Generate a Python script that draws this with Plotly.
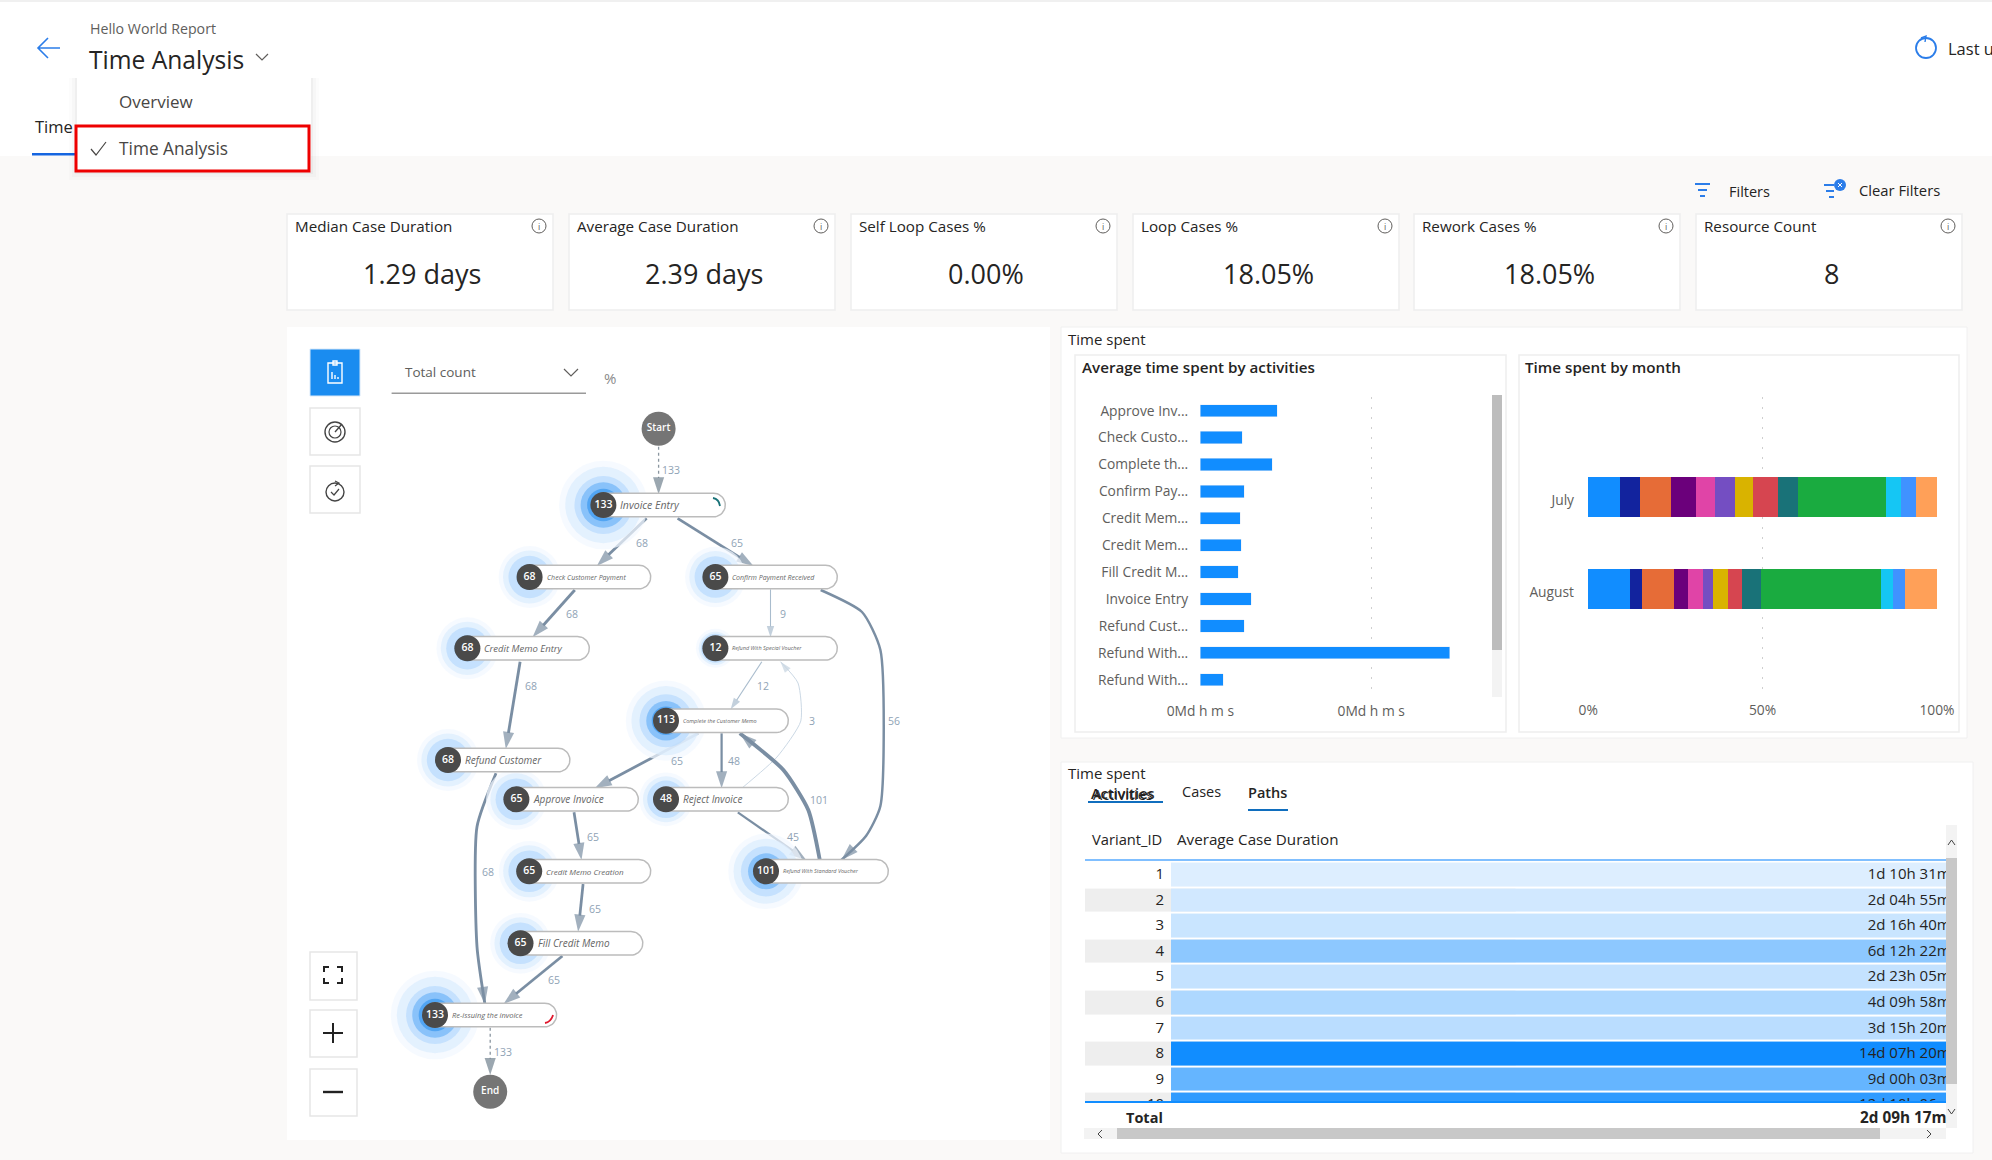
import numpy as np
import plotly.graph_objects as go

W, H = 1992, 1160
FONT = "Open Sans"

# kpi cards
kpi_titles = ["Median Case Duration", "Average Case Duration", "Self Loop Cases %", "Loop Cases %", "Rework Cases %", "Resource Count"]
kpi_values = ["1.29 days", "2.39 days", "0.00%", "18.05%", "18.05%", "8"]

# average time spent by activities (days)
activities = ["Approve Invoice", "Check Customer Payment", "Complete the Customer Memo", "Confirm Payment Received",
              "Credit Memo Creation", "Credit Memo Entry", "Fill Credit Memo", "Invoice Entry", "Refund Customer",
              "Refund With Standard Voucher", "Refund With Special Voucher"]
activity_ticks = ["Approve Inv...", "Check Custo...", "Complete th...", "Confirm Pay...", "Credit Mem...", "Credit Mem...",
                  "Fill Credit M...", "Invoice Entry", "Refund Cust...", "Refund With...", "Refund With..."]
activity_days = [4.5, 2.46, 4.2, 2.57, 2.34, 2.4, 2.22, 2.98, 2.57, 14.6, 1.34]

# time spent by month, share of each activity in %
months = ["July", "August"]
july_share = [9.1, 5.8, 8.9, 7.0, 5.7, 5.7, 5.1, 7.0, 5.8, 25.4, 4.1, 4.3, 6.1]
august_share = [12.0, 3.3, 9.4, 3.9, 4.3, 2.9, 4.3, 3.9, 5.5, 34.5, 3.3, 3.6, 9.1]
month_colors = ["#118DFF", "#12239E", "#E66C37", "#6B007B", "#E044A7", "#744EC2", "#D9B300", "#D64550",
                "#197278", "#1AAB40", "#15C6F4", "#4092FF", "#FFA058"]

# paths table
variant_ids = [1, 2, 3, 4, 5, 6, 7, 8, 9, 10]
variant_labels = ["1d 10h 31m", "2d 04h 55m", "2d 16h 40m", "6d 12h 22m", "2d 23h 05m", "4d 09h 58m", "3d 15h 20m",
                  "14d 07h 20m", "9d 00h 03m", "12d 10h 06m"]
variant_minutes = [2071, 3175, 3880, 9382, 4385, 6358, 5240, 20600, 12963, 17886]
total_label = "2d 09h 17m"

# process map
node_names = ["Invoice Entry", "Check Customer Payment", "Confirm Payment Received", "Credit Memo Entry",
              "Refund With Special Voucher", "Complete the Customer Memo", "Refund Customer", "Approve Invoice",
              "Reject Invoice", "Credit Memo Creation", "Refund With Standard Voucher", "Fill Credit Memo",
              "Re-issuing the invoice"]
node_counts = [133, 68, 65, 68, 12, 113, 68, 65, 48, 65, 101, 65, 133]
edge_counts = [133, 68, 65, 68, 9, 56, 68, 12, 3, 65, 48, 101, 68, 65, 45, 65, 65, 133]

# layout of the process map, pixels on the page
node_pos = [(603.4, 505), (529.6, 577), (715.4, 577), (467.4, 648.3), (715.4, 648.3), (666, 720.7), (448, 760),
            (516.4, 799.3), (666, 799.3), (529.2, 871.3), (766, 871.3), (520.5, 943.3), (435, 1015)]
node_right = [725.3, 650.7, 837.3, 589.3, 837.3, 788.3, 569.9, 638.3, 788.3, 650.7, 888.3, 642.8, 556.6]
node_font = [10.5, 7, 7, 9.5, 5.5, 5.5, 10, 10, 10, 8, 5.5, 10, 7.5]
terminals = [("Start", 658.6, 428.7), ("End", 490.2, 1091.7)]
edge_routes = [
    [(658.6, 446.7), (658.6, 494.3)],
    [(646.6, 518.3), (596.8, 566)],
    [(677.6, 518.3), (753.5, 566)],
    [(574.8, 590), (532.5, 637.3)],
    [(770.5, 589.3), (770.5, 637.3)],
    [(820.7, 590), (862, 612), (880.4, 650), (880.4, 806), (866, 836), (841.4, 860)],
    [(520.1, 661.7), (505.8, 749)],
    [(761.8, 661.7), (730.7, 709.3)],
    [(742, 788), (777, 757), (800.8, 721), (798, 683), (780.5, 661.7)],
    [(698.4, 733.3), (594.7, 788.3)],
    [(721.6, 733.3), (721.6, 788.3)],
    [(819.8, 860), (808.3, 810), (783.4, 770), (739.8, 733.3)],
    [(496, 773.3), (477, 826.7), (477, 946.7), (484.9, 1004)],
    [(574, 812.3), (581.5, 860)],
    [(737.8, 812.3), (806.2, 860)],
    [(583.1, 884), (578.1, 931.7)],
    [(562.4, 956), (503.5, 1004)],
    [(490.2, 1027.7), (490.2, 1075)],
]
edge_label_pos = [(671.4, 470.3), (641.6, 542.7), (737, 542.7), (572.3, 613.7), (783.4, 613.7), (893.7, 721), (530.9, 685.7),
                  (763, 685.7), (811.6, 721), (676.8, 760.7), (734.4, 760.7), (819.4, 800.3), (488.2, 872.3), (592.7, 837),
                  (792.5, 837), (594.7, 909), (553.7, 980), (502.7, 1052)]
dashed_edges = [0, 17]

shapes = []
annotations = []


def rect(x0, y0, x1, y1, fill=None, line=None, lw=1, opacity=1):
    shapes.append(dict(type="rect", x0=x0, y0=y0, x1=x1, y1=y1, xref="x", yref="y", layer="below", opacity=opacity,
                       fillcolor=fill or "rgba(0,0,0,0)", line=dict(color=line or "rgba(0,0,0,0)", width=lw if line else 0)))


def circle(cx, cy, r, fill=None, line=None, lw=1):
    shapes.append(dict(type="circle", x0=cx - r, y0=cy - r, x1=cx + r, y1=cy + r, xref="x", yref="y", layer="below",
                       fillcolor=fill or "rgba(0,0,0,0)", line=dict(color=line or "rgba(0,0,0,0)", width=lw if line else 0)))


def path(d, color, lw=1.5, fill=None, layer="below"):
    shapes.append(dict(type="path", path=d, xref="x", yref="y", layer=layer, fillcolor=fill or "rgba(0,0,0,0)",
                       line=dict(color=color, width=lw)))


def text(x, y, s, size=14, color="#252423", anchor="left", weight=None):
    annotations.append(dict(x=x, y=y - 1, xref="x", yref="y", text=s, showarrow=False, xanchor=anchor, yanchor="middle",
                            borderpad=0, font=dict(family=FONT, size=size, color=color, weight=weight)))


def button(x0, y0, x1, y1):
    rect(x0, y0, x1, y1, fill="#ffffff", line="#e6e6e6", lw=1.5)


# page
rect(0, 0, W, 156, fill="#ffffff")
rect(0, 0, W, 2, fill="#f0f0f0")
text(89, 29, "Hello World Report", 14.2, "#605e5c")
text(88, 60, "Time Analysis", 24.6)
path("M256 54 L262 60 L268 54", "#605e5c", 1.2)
path("M60 48 L38 48 M48 38 L38 48 L48 58", "#2b7de9", 1.6)
circle(1926, 48, 10, line="#2b7de9", lw=1.8)
path("M1921 38 L1926 36 L1925 42", "#2b7de9", 1.4)
text(1947, 49, "Last u", 16.5)

# tab under the dropdown
text(34, 127, "Time", 16.5)
rect(32, 153, 80, 155.5, fill="#1565e0")

# dropdown
for pad, op in [(8, 0.012), (5, 0.018), (2, 0.03)]:
    rect(77 - pad, 78, 311 + pad, 172 + pad, fill="#000000", opacity=op)
rect(77, 78, 311, 172, fill="#ffffff")
rect(76, 126, 309, 171, line="#ee0000", lw=3)
text(118, 102, "Overview", 17, "#484644")
text(118, 149, "Time Analysis", 17.3, "#484644")
path("M91 149 L96 155 L106 142", "#484644", 1.2)

# filters
path("M1695 184 H1710 M1698 190 H1707 M1700 196 H1705", "#2b7de9", 2)
text(1728, 192, "Filters", 14.5)
path("M1824 185 H1834 M1826 191 H1834 M1829 197 H1834", "#2b7de9", 2)
circle(1840, 185, 6, fill="#2b7de9")
path("M1838 183 L1842 187 M1842 183 L1838 187", "#ffffff", 1)
text(1858, 191, "Clear Filters", 14.8)

# kpi cards
card_left = [287, 569, 851, 1133, 1414, 1696]
for left, title, value in zip(card_left, kpi_titles, kpi_values):
    rect(left, 214, left + 266, 310, fill="#ffffff", line="#eeeeee", lw=1.5)
    text(left + 7, 227, title, 15.2)
    text(left + 135, 274, value, 27, anchor="center")
    circle(left + 252, 226, 7, line="#605e5c", lw=1)
    text(left + 252, 227, "i", 9, "#605e5c", anchor="center")

# panels
rect(287, 327, 1050, 1140, fill="#ffffff")
rect(1061, 327, 1967, 738, fill="#ffffff", line="#f0f0f0")
rect(1075, 355, 1506, 732, fill="#ffffff", line="#eeeeee", lw=1.5)
rect(1519, 355, 1959, 732, fill="#ffffff", line="#eeeeee", lw=1.5)
rect(1061, 762, 1973, 1153, fill="#ffffff", line="#f0f0f0")
text(1067, 340, "Time spent", 15)
text(1081, 368, "Average time spent by activities", 15.2, weight=600)
text(1524, 368, "Time spent by month", 15.2, weight=600)
rect(1492, 395, 1502, 697, fill="#f3f3f3")
rect(1492, 395, 1502, 650, fill="#bdbdbd")

# table chrome
text(1067, 774, "Time spent", 15)
text(1090, 794, "Activities", 14.5, weight=600)
text(1092, 795, "Activities", 14.5)
rect(1088, 801, 1163, 803, fill="#106ebe")
text(1181, 792, "Cases", 14.5)
text(1247, 793, "Paths", 14.5, weight=600)
rect(1248, 809, 1288, 811, fill="#106ebe")
text(1091, 840, "Variant_ID", 14.7)
text(1176, 840, "Average Case Duration", 15.2)
rect(1085, 859, 1946, 861, fill="#80bfff")
rect(1085, 1101, 1946, 1103, fill="#118DFF")
text(1164, 1118, "Total", 14.5, anchor="right", weight=700)
text(1947, 1118, total_label, 15.3, anchor="right", weight=700)
rect(1946, 825, 1957, 1128, fill="#f3f3f3")
rect(1946, 858, 1957, 1084, fill="#c8c8c8")
path("M1948 845 L1951.5 840 L1955 845", "#444444", 1)
path("M1948 1109 L1951.5 1114 L1955 1109", "#444444", 1)
rect(1084, 1128, 1946, 1139, fill="#f3f3f3")
rect(1117, 1128, 1880, 1139, fill="#c8c8c8")
path("M1102 1130 L1098 1134 L1102 1138", "#444444", 1)
path("M1927 1130 L1931 1134 L1927 1138", "#444444", 1)

# process map buttons
rect(310, 349, 360, 396, fill="#1a8cf0", line="#d8e8f8")
path("M328 363 H342 V383 H328 Z M333 361 H337 V365 H333 Z M332 372 V379 M335 375 V379 M338 377 V379", "#ffffff", 1.4)
button(310, 408, 360, 455)
circle(335, 432, 10, line="#444444", lw=1.4)
circle(335, 432, 6, line="#444444", lw=1.2)
path("M335 432 L342 424", "#444444", 1.4)
button(310, 466, 360, 513)
circle(335, 492, 9, line="#444444", lw=1.4)
path("M331 492 L334 495 L339 489 M335 481 L339 483 L335 486", "#444444", 1.2)
rect(391.6, 392.5, 586, 394, fill="#9a9a9a")
text(404, 373, "Total count", 13.5, "#605e5c")
path("M564 369 L571 376 L578 369", "#605e5c", 1.2)
text(603, 379, "%", 15, "#8a8a8a")
button(310, 952, 357, 1000)
path("M324 972 V967 H329 M337 967 H342 V972 M342 978 V983 H337 M329 983 H324 V978", "#222222", 2)
button(310, 1010, 357, 1057)
path("M323 1033 H343 M333 1023 V1043", "#222222", 2)
button(310, 1069, 357, 1116)
path("M323 1092 H343", "#222222", 2.4)

fig = go.Figure()

# process map edges
for i, (route, count) in enumerate(zip(edge_routes, edge_counts)):
    xs = [p[0] for p in route]
    ys = [p[1] for p in route]
    dashed = i in dashed_edges
    color = "#8a96a0" if dashed else ("#c4d3e0" if count < 5 else "#a9bccd" if count < 15 else "#7a8ea3")
    width = 1.3 if dashed else 0.8 + count * 0.03
    head = 18 if count >= 45 else 12
    fig.add_trace(go.Scatter(x=xs, y=ys, mode="lines+markers", showlegend=False, hoverinfo="skip",
                             line=dict(color=color, width=width, shape="spline" if len(xs) > 2 else "linear",
                                       smoothing=0.6, dash="3px,3px" if dashed else "solid"),
                             marker=dict(symbol="arrow", angleref="previous", color="#71818f" if dashed else color,
                                         size=[0] * (len(xs) - 1) + [head], line=dict(width=0))))
    text(edge_label_pos[i][0], edge_label_pos[i][1] + 1, str(count), 10.5, "#8fa3b5", anchor="center")

# halos, larger rings first so they stay behind
node_x = [p[0] for p in node_pos]
node_y = [p[1] for p in node_pos]
rings = [("#f2f8ff", lambda c: 17 + 0.205 * c), ("#dcecfe", lambda c: 14.5 + 0.178 * c), ("#b8dafe", lambda c: 13 + 0.12 * c),
         ("#6fb5f8", lambda c: 13 + (c - 68) * 0.15), ("#3a98f0", lambda c: 13 + (c - 100) * 0.1)]
for color, radius in rings:
    sizes = [max(2 * radius(c), 0) for c in node_counts]
    fig.add_trace(go.Scatter(x=node_x, y=node_y, mode="markers", showlegend=False, hoverinfo="skip",
                             marker=dict(size=sizes, color=color, line=dict(width=0))))

# pills
for (cx, cy), right, name, fs in zip(node_pos, node_right, node_names, node_font):
    t = np.linspace(-np.pi / 2, np.pi / 2, 20)
    r = 11.8
    xs = list(cx + r * np.cos(t + np.pi)) + list(right - r + r * np.cos(t))
    ys = list(cy - r * np.sin(t)) + list(cy + r * np.sin(t))
    fig.add_trace(go.Scatter(x=xs + xs[:1], y=ys + ys[:1], mode="lines", fill="toself", fillcolor="#ffffff",
                             line=dict(color="#bcbcbc", width=1.5), showlegend=False, hoverinfo="skip"))
    text(cx + 16, cy + 1, "<i>" + name + "</i>", fs, "#666666")
path("M713 498 Q719 499 720 506", "#197278", 1.8, layer="above")
path("M545 1023 Q551 1022 553 1015", "#e0182d", 1.8, layer="above")

# count badges
fig.add_trace(go.Scatter(x=node_x, y=node_y, mode="markers+text", showlegend=False, hoverinfo="skip",
                         text=[str(c) for c in node_counts], textposition="middle center",
                         textfont=dict(family=FONT, size=10.5, color="#ffffff", weight=600),
                         marker=dict(size=26, color="#4a4a4a", line=dict(width=0))))
fig.add_trace(go.Scatter(x=[t[1] for t in terminals], y=[t[2] for t in terminals], mode="markers+text", showlegend=False,
                         hoverinfo="skip", text=[t[0] for t in terminals], textposition="middle center",
                         textfont=dict(family=FONT, size=10, color="#ffffff", weight=600),
                         marker=dict(size=34, color="#757575", line=dict(width=0))))

# average time spent bars
fig.add_trace(go.Bar(x=activity_days, y=activities, orientation="h", width=0.457, marker_color="#118DFF",
                     showlegend=False, xaxis="x2", yaxis="y2"))

# time spent by month
for i, color in enumerate(month_colors):
    fig.add_trace(go.Bar(x=[july_share[i], august_share[i]], y=months, orientation="h", width=0.435, marker_color=color,
                         marker_line_width=0, name=activities[i % len(activities)], showlegend=False, xaxis="x3", yaxis="y3"))

# paths table
row_text_y = [v + 0.04 for v in variant_ids]
fig.add_trace(go.Heatmap(z=[[i % 2] for i in range(len(variant_ids))], x=[-0.0555], dx=0.111, y=variant_ids, ygap=2,
                         zmin=0, zmax=1, colorscale=[[0, "#ffffff"], [1, "#eeeeee"]], showscale=False, hoverinfo="skip",
                         xaxis="x4", yaxis="y4"))
fig.add_trace(go.Heatmap(z=[[m] for m in variant_minutes], x=[0.5], dx=1, y=variant_ids, ygap=2, zmin=2071, zmax=20600,
                         colorscale=[[0, "#DDEEFF"], [1, "#118DFF"]], showscale=False, xaxis="x4", yaxis="y4"))
fig.add_trace(go.Scatter(x=[-0.009] * len(variant_ids), y=row_text_y, mode="text", text=[str(v) for v in variant_ids],
                         textposition="middle left", textfont=dict(family=FONT, size=15, color="#252423"),
                         cliponaxis=True, showlegend=False, hoverinfo="skip", xaxis="x4", yaxis="y4"))
fig.add_trace(go.Scatter(x=[1.006] * len(variant_ids), y=row_text_y, mode="text", text=variant_labels,
                         textposition="middle left", textfont=dict(family=FONT, size=15, color="#252423"),
                         cliponaxis=True, showlegend=False, hoverinfo="skip", xaxis="x4", yaxis="y4"))


def dx(a, b):
    return [a / W, b / W]


def dy(top, bottom):
    return [1 - bottom / H, 1 - top / H]


hidden = dict(visible=False, fixedrange=True, automargin=False)
tick_font = dict(family=FONT, size=13.8, color="#605e5c")
grid = dict(showgrid=True, gridcolor="#cfcfcf", griddash="2px,8px", zeroline=False, ticks="", fixedrange=True, automargin=False)
fig.update_layout(
    width=W, height=H, margin=dict(l=0, r=0, t=0, b=0), paper_bgcolor="#faf9f8", plot_bgcolor="rgba(0,0,0,0)",
    barmode="stack", shapes=shapes, annotations=annotations, showlegend=False,
    xaxis=dict(range=[0, W], domain=[0, 1], **hidden),
    yaxis=dict(range=[H, 0], domain=[0, 1], **hidden),
    xaxis2=dict(domain=dx(1200, 1480), range=[-0.02, 16.37], tickvals=[0, 10], ticktext=["0Md h m s", "0Md h m s"], anchor="y2",
                tickfont=tick_font, ticklabelstandoff=8, **grid),
    yaxis2=dict(domain=dy(397.25, 693.2), anchor="x2", range=[10.5, -0.5], tickmode="array", tickvals=activities, ticktext=activity_ticks, automargin=False,
                tickfont=tick_font, showgrid=False, ticks="outside", ticklen=8, tickcolor="rgba(0,0,0,0)", showline=False, fixedrange=True),
    xaxis3=dict(domain=dx(1587.8, 1937.3), range=[-0.1, 100.1], tickvals=[0, 50, 100], ticktext=["0%", "50%", "100%"], anchor="y3",
                tickfont=tick_font, ticklabelstandoff=3, **grid),
    yaxis3=dict(domain=dy(397, 697), anchor="x3", range=[2.177, -1.084], tickmode="array", tickvals=months, ticktext=months, automargin=False,
                tickfont=tick_font, showgrid=False, ticks="outside", ticklen=10, tickcolor="rgba(0,0,0,0)", ticklabelshift=-3, fixedrange=True),
    xaxis4=dict(domain=dx(1085, 1946), range=[-0.111, 1], anchor="y4", **hidden),
    yaxis4=dict(domain=dy(861.7, 1101), range=[9.86, 0.508], anchor="x4", **hidden),
    hovermode=False,
)

fig.write_html("out.html", config={"displayModeBar": False}, post_script="document.body.style.margin='0';")
